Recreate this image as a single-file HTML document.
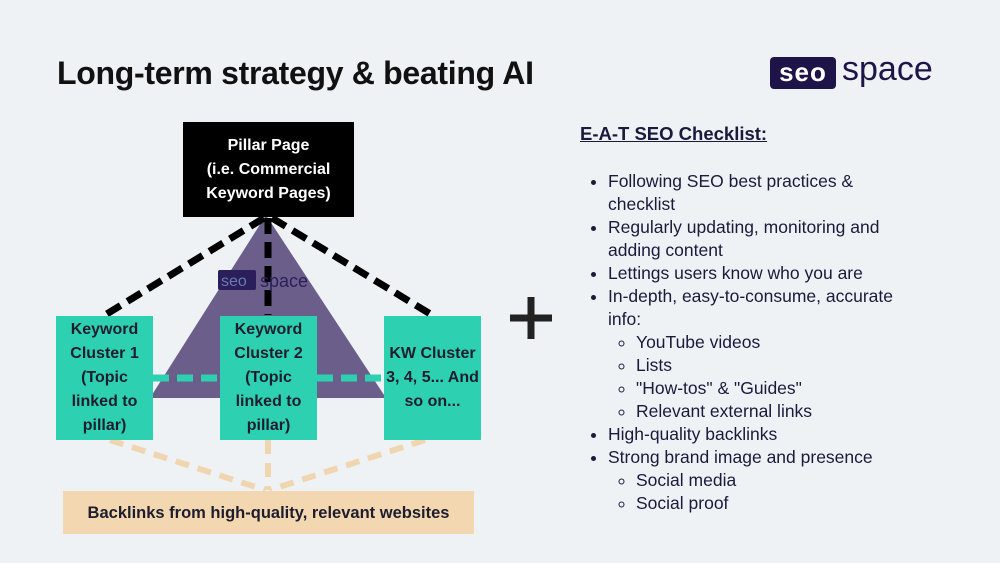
<!DOCTYPE html>
<html><head><style>
body{margin:0;width:1000px;height:563px;background:#eff2f5;font-family:"Liberation Sans",sans-serif;position:relative;overflow:hidden;color:#1a1a3a}
.a{position:absolute}
h1{position:absolute;left:57px;top:55px;margin:0;font-size:32px;font-weight:bold;color:#111;letter-spacing:-0.3px}
.box{position:absolute;display:flex;align-items:center;justify-content:center;text-align:center;font-weight:bold;font-size:16px;line-height:24px}
.t{background:#2dd1b1;color:#1d1d2e;width:97px;height:124px;top:316px}
ul{margin:0;padding-left:28px;font-size:17.5px;line-height:23px;color:#1a1a3a}
ul ul{list-style:circle;padding-left:28px}
</style></head><body>
<h1>Long-term strategy &amp; beating AI</h1>
<div class="a" style="left:770px;top:57px;width:66px;height:32px;background:#1e1448;border-radius:4px;color:#fff;font-size:26px;font-weight:bold;line-height:31px;text-align:center;letter-spacing:1px">seo</div>
<div class="a" style="left:842px;top:50px;font-size:34px;color:#1e1448;">space</div>
<svg class="a" style="left:0;top:0" width="1000" height="563">
<polygon points="266,215 150,398 386,398" fill="#6b5e8a"/>
<g stroke="#f0d6b0" stroke-width="6" stroke-dasharray="14,9">
<line x1="110" y1="440" x2="265" y2="490"/>
<line x1="268" y1="440" x2="268" y2="490"/>
<line x1="425" y1="440" x2="270" y2="490"/>
</g>
<g stroke="#2dd1b1" stroke-width="7" stroke-dasharray="16,8">
<line x1="153" y1="378" x2="220" y2="378"/>
<line x1="317" y1="378" x2="384" y2="378"/>
</g>
<g stroke="#000" stroke-width="7" stroke-dasharray="16,8">
<line x1="264" y1="218" x2="105" y2="315"/>
<line x1="268" y1="218" x2="268" y2="315"/>
<line x1="272" y1="218" x2="432" y2="315"/>
</g>
<rect x="218" y="270" width="38" height="20" fill="#2a1f5a" rx="2"/>
<text x="221" y="286" font-size="16" fill="#6b7ab0" font-family="Liberation Sans">seo</text>
<text x="260" y="287" font-size="18" fill="#2a1f5a" font-family="Liberation Sans">space</text>
<g stroke="#222" stroke-width="7"><line x1="510" y1="318" x2="552" y2="318"/><line x1="531" y1="297" x2="531" y2="339"/></g>
</svg>
<div class="box" style="left:183px;top:122px;width:171px;height:95px;background:#000;color:#fff">Pillar Page<br>(i.e. Commercial<br>Keyword Pages)</div>
<div class="box t" style="left:56px">Keyword<br>Cluster 1<br>(Topic<br>linked to<br>pillar)</div>
<div class="box t" style="left:220px">Keyword<br>Cluster 2<br>(Topic<br>linked to<br>pillar)</div>
<div class="box t" style="left:384px">KW Cluster<br>3, 4, 5... And<br>so on...</div>
<div class="box" style="left:63px;top:491px;width:411px;height:43px;background:#f3d7b1;color:#1d1d2e;font-size:16.5px">Backlinks from high-quality, relevant websites</div>
<div class="a" style="left:580px;top:123px;font-size:18.5px;font-weight:bold;text-decoration:underline;color:#1a1a3a">E-A-T SEO Checklist:</div>
<div class="a" style="left:580px;top:170px;width:330px">
<ul>
<li>Following SEO best practices &amp;<br>checklist</li>
<li>Regularly updating, monitoring and adding content</li>
<li>Lettings users know who you are</li>
<li>In-depth, easy-to-consume, accurate info:
<ul><li>YouTube videos</li><li>Lists</li><li>"How-tos" &amp; "Guides"</li><li>Relevant external links</li></ul></li>
<li>High-quality backlinks</li>
<li>Strong brand image and presence
<ul><li>Social media</li><li>Social proof</li></ul></li>
</ul></div>
</body></html>
